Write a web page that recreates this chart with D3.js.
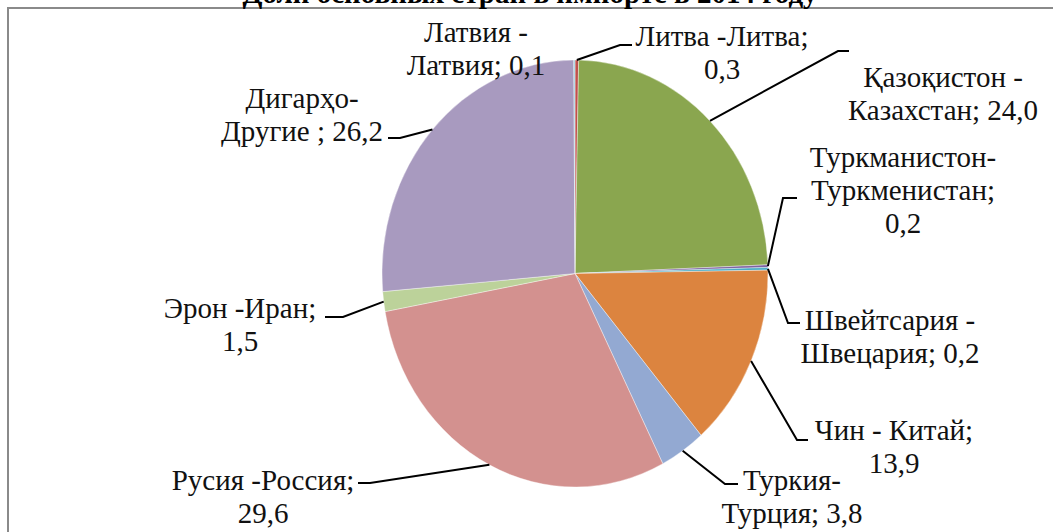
<!DOCTYPE html>
<html>
<head>
<meta charset="utf-8">
<script src="https://cdn.jsdelivr.net/npm/d3@7"></script>
<style>
  html, body { margin: 0; padding: 0; background: #fff; overflow: hidden; }
</style>
</head>
<body>
<div id="chart"></div>
<script>
// данные
const namesTj = ["Литва", "Қазоқистон", "Туркманистон", "Швейтсария", "Чин", "Туркия", "Русия", "Эрон", "Дигарҳо", "Латвия"];
const namesRu = ["Литва", "Казахстан", "Туркменистан", "Швецария", "Китай", "Турция", "Россия", "Иран", "Другие", "Латвия"];
const shares = [0.3, 24.0, 0.2, 0.2, 13.9, 3.8, 29.6, 1.5, 26.2, 0.1];
const colors = ["#C0504D", "#8AA64F", "#7F63A1", "#4AACC5", "#DC843F", "#93A9D2", "#D3918F", "#BCD29A", "#A89ABF", "#92CDDC"];
const titleText = "Доли основных стран в импорте в 2014 году";

// label templates ({t} tajik, {r} russian, {v} value)
const labelLines = [
  ["{t} -{r};", "{v}"],
  ["{t} -", "{r}; {v}"],
  ["{t}-", "{r};", "{v}"],
  ["{t} -", "{r}; {v}"],
  ["{t} - {r};", "{v}"],
  ["{t}-", "{r}; {v}"],
  ["{t} -{r};", "{v}"],
  ["{t} -{r};", "{v}"],
  ["{t}-", "{r} ; {v}"],
  ["{t} -", "{r}; {v}"]
];

// layout: text block centre / first baseline, leader elbow and end
const labelPos = [
  { x: 722, y: 46, elbow: [620, 45], end: [632, 45] },
  { x: 943, y: 87, elbow: [838, 51], end: [849, 51] },
  { x: 903, y: 167, elbow: [783, 198], end: [797, 198] },
  { x: 890, y: 330, elbow: [788, 323], end: [800, 323] },
  { x: 894, y: 440, elbow: [797, 440], end: [808, 440] },
  { x: 792, y: 490, elbow: [725, 484], end: [738, 484] },
  { x: 263, y: 490, elbow: [370, 483], end: [358, 483] },
  { x: 240, y: 318, elbow: [343, 317], end: [325, 317] },
  { x: 302, y: 108, elbow: [400, 138], end: [388, 138] },
  { x: 476, y: 42, elbow: null, end: null }
];

const width = 1053, height = 532;
const cx = 575, cy = 273.5, rx = 193, ry = 213.5;
const lineH = 33;

const svg = d3.select("#chart").append("svg")
  .attr("width", width)
  .attr("height", height);

// frame
svg.append("rect")
  .attr("x", 8).attr("y", 8)
  .attr("width", width + 20).attr("height", height + 20)
  .attr("fill", "none")
  .attr("stroke", "#8a8a8a")
  .attr("stroke-width", 2);

// title (cut off at the top as in the source)
svg.append("text")
  .attr("x", 530).attr("y", 3)
  .attr("text-anchor", "middle")
  .style("font-family", "Liberation Serif")
  .style("font-size", "29px")
  .style("font-weight", "bold")
  .attr("fill", "#000")
  .text(titleText);

const data = shares.map((v, i) => ({ v, i }));
const pie = d3.pie().value(d => d.v).sort(null);
const arcs = pie(data);
const arc = d3.arc().innerRadius(0).outerRadius(ry);

const g = svg.append("g")
  .attr("transform", `translate(${cx},${cy}) scale(${rx / ry},1)`);

g.selectAll("path")
  .data(arcs)
  .enter().append("path")
  .attr("d", arc)
  .attr("fill", d => colors[d.data.i])
  .attr("stroke", "#fff")
  .attr("stroke-width", 0.4);

const fmt = v => d3.format(".1f")(v).replace(".", ",");

// leader lines
arcs.forEach(a => {
  const p = labelPos[a.data.i];
  if (!p.elbow) return;
  const mid = (a.startAngle + a.endAngle) / 2;
  const sx = cx + rx * Math.sin(mid);
  const sy = cy - ry * Math.cos(mid);
  svg.append("polyline")
    .attr("points", [[sx, sy], p.elbow, p.end].map(q => q.join(",")).join(" "))
    .attr("fill", "none")
    .attr("stroke", "#000")
    .attr("stroke-width", 2);
});

// labels
data.forEach(d => {
  const p = labelPos[d.i];
  const t = svg.append("text")
    .attr("text-anchor", "middle")
    .style("font-family", "Liberation Serif")
    .style("font-size", "29px")
    .attr("fill", "#111");
  labelLines[d.i].forEach((tpl, k) => {
    const s = tpl.replace("{t}", namesTj[d.i]).replace("{r}", namesRu[d.i]).replace("{v}", fmt(d.v));
    t.append("tspan")
      .attr("x", p.x)
      .attr("y", p.y + k * lineH)
      .text(s);
  });
});
</script>
</body>
</html>
